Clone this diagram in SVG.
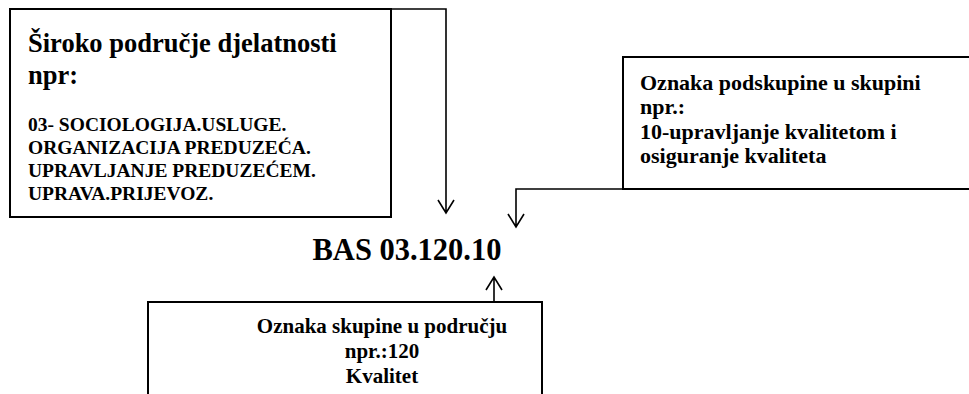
<svg xmlns="http://www.w3.org/2000/svg" width="969" height="394" viewBox="0 0 969 394">
<style>
text{font-family:"Liberation Serif","Times New Roman",serif;font-weight:bold;fill:#000}
.box{fill:#fff;stroke:#000;stroke-width:2}
.ln{fill:none;stroke:#000;stroke-width:1.6}
.t1{font-size:26.5px}
.t2{font-size:19.5px}
.t3{font-size:22px}
.t4{font-size:21px}
.big{font-size:30.5px}
</style>
<rect width="969" height="394" fill="#fff"/>
<g id="connectors">
<path class="ln" d="M391,9 H446 V213 M438,200 L446,213 L454,200"/>
<path class="ln" d="M623,189 H516 V227 M508,214 L516,227 L524,214"/>
<path class="ln" d="M494,302 V277 M486,290 L494,277 L502,290"/>
</g>
<g id="node-podrucje">
<rect class="box" x="10" y="9" width="381" height="208"/>
<text class="t1" x="28" y="52">Široko područje djelatnosti</text>
<text class="t1" x="28" y="84">npr:</text>
<text class="t2" x="28" y="131">03- SOCIOLOGIJA.USLUGE.</text>
<text class="t2" x="28" y="154">ORGANIZACIJA PREDUZEĆA.</text>
<text class="t2" x="28" y="177">UPRAVLJANJE PREDUZEĆEM.</text>
<text class="t2" x="28" y="200">UPRAVA.PRIJEVOZ.</text>
</g>
<g id="node-podskupina">
<rect class="box" x="623" y="57" width="360" height="132"/>
<text class="t3" x="640" y="90">Oznaka podskupine u skupini</text>
<text class="t3" x="640" y="114">npr.:</text>
<text class="t3" x="640" y="138.5">10-upravljanje kvalitetom i</text>
<text class="t3" x="640" y="163">osiguranje kvaliteta</text>
</g>
<g id="node-oznaka">
<text class="big" x="407" y="260" text-anchor="middle">BAS 03.120.10</text>
</g>
<g id="node-skupina">
<rect class="box" x="148" y="302" width="394" height="100"/>
<text class="t4" x="382" y="333" text-anchor="middle">Oznaka skupine u području</text>
<text class="t4" x="382" y="358" text-anchor="middle">npr.:120</text>
<text class="t4" x="382" y="383" text-anchor="middle">Kvalitet</text>
</g>
</svg>
